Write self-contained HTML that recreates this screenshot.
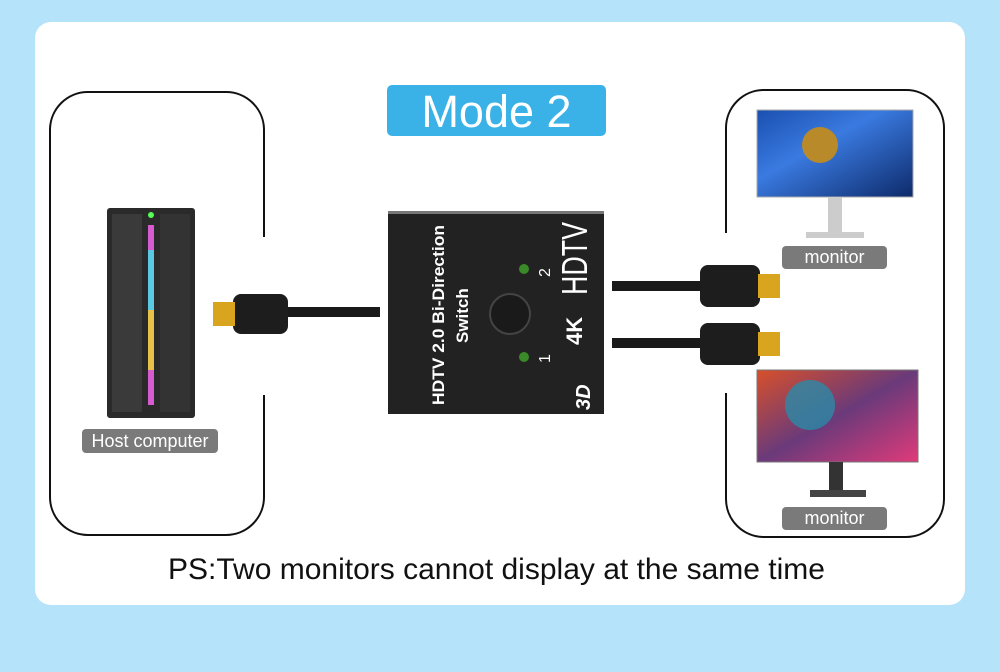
<!DOCTYPE html>
<html><head><style>
body{margin:0;width:1000px;height:672px;background:#b5e4fa;position:relative;overflow:hidden;font-family:"Liberation Sans",sans-serif}
.a{position:absolute}
.lbl{background:#7a7a7a;color:#fff;text-align:center;border-radius:4px;font-size:18px}
</style></head><body>
<div class="a" style="left:35px;top:22px;width:930px;height:583px;background:#fff;border-radius:16px"></div>
<svg class="a" style="left:0;top:0" width="1000" height="672">
<path d="M264 237 V130 A38 38 0 0 0 226 92 H88 A38 38 0 0 0 50 130 V497 A38 38 0 0 0 88 535 H226 A38 38 0 0 0 264 497 V395" fill="none" stroke="#111" stroke-width="2"/>
<path d="M726 233 V128 A38 38 0 0 1 764 90 H906 A38 38 0 0 1 944 128 V499 A38 38 0 0 1 906 537 H764 A38 38 0 0 1 726 499 V393" fill="none" stroke="#111" stroke-width="2"/>
<!-- tower -->
<rect x="107" y="208" width="88" height="210" rx="3" fill="#2a2a2a"/>
<rect x="112" y="214" width="30" height="198" fill="#3a3a3a"/>
<rect x="160" y="214" width="30" height="198" fill="#333"/>
<rect x="148" y="225" width="6" height="180" fill="#d65ad0"/>
<rect x="148" y="250" width="6" height="60" fill="#5ac8e0"/>
<rect x="148" y="310" width="6" height="60" fill="#e6c24a"/>
<circle cx="151" cy="215" r="3" fill="#5f5"/>
<!-- left cable -->
<rect x="280" y="307" width="100" height="10" fill="#1a1a1a"/>
<rect x="233" y="294" width="55" height="40" rx="8" fill="#1d1d1d"/>
<rect x="213" y="302" width="22" height="24" fill="#d9a41e"/>
<!-- switch -->
<rect x="388" y="211" width="216" height="203" fill="#222"/>
<rect x="388" y="211" width="216" height="3" fill="#777"/>
<circle cx="510" cy="314" r="20" fill="#1a1a1a" stroke="#444" stroke-width="2"/>
<circle cx="524" cy="269" r="5" fill="#3a8a2a"/>
<circle cx="524" cy="357" r="5" fill="#3a8a2a"/>
<g fill="#fff" font-family="Liberation Sans" font-weight="bold">
<text transform="translate(444 405) rotate(-90)" font-size="17" textLength="180" lengthAdjust="spacingAndGlyphs">HDTV 2.0 Bi-Direction</text>
<text transform="translate(468 343) rotate(-90)" font-size="17">Switch</text>
<text transform="translate(550 277) rotate(-90)" font-size="16" font-weight="normal">2</text>
<text transform="translate(550 363) rotate(-90)" font-size="16" font-weight="normal">1</text>
<text transform="translate(587 295) rotate(-90)" font-size="36" font-weight="normal" textLength="73" lengthAdjust="spacingAndGlyphs">HDTV</text>
<text transform="translate(582 345) rotate(-90)" font-size="22">4K</text>
<text transform="translate(590 410) rotate(-90)" font-size="20" font-style="italic">3D</text>
</g>
<!-- right cables -->
<rect x="612" y="281" width="100" height="10" fill="#1a1a1a"/>
<rect x="612" y="338" width="100" height="10" fill="#1a1a1a"/>
<rect x="700" y="265" width="60" height="42" rx="8" fill="#1d1d1d"/>
<rect x="700" y="323" width="60" height="42" rx="8" fill="#1d1d1d"/>
<rect x="758" y="274" width="22" height="24" fill="#d9a41e"/>
<rect x="758" y="332" width="22" height="24" fill="#d9a41e"/>
<defs>
<linearGradient id="g1" x1="0" y1="0" x2="1" y2="1"><stop offset="0" stop-color="#1a4fb0"/><stop offset=".4" stop-color="#3a7ae0"/><stop offset="1" stop-color="#0d2a6a"/></linearGradient>
<linearGradient id="g2" x1="0" y1="0" x2="1" y2="1"><stop offset="0" stop-color="#d8502a"/><stop offset=".5" stop-color="#6a3a7a"/><stop offset="1" stop-color="#e03a7a"/></linearGradient>
</defs>
<rect x="757" y="110" width="156" height="87" fill="url(#g1)" stroke="#aaa"/>
<circle cx="820" cy="145" r="18" fill="#b88a2a"/>
<rect x="828" y="197" width="14" height="38" fill="#ccc"/>
<rect x="806" y="232" width="58" height="6" fill="#ccc"/>
<rect x="757" y="370" width="161" height="92" fill="url(#g2)" stroke="#777"/>
<circle cx="810" cy="405" r="25" fill="#2a8aa8" opacity=".8"/>
<rect x="829" y="462" width="14" height="30" fill="#333"/>
<rect x="810" y="490" width="56" height="7" fill="#444"/>
</svg>
<div class="a" style="left:387px;top:85px;width:219px;height:51px;background:#3ab2e8;border-radius:5px;color:#fff;font-size:45px;text-align:center;line-height:53px">Mode 2</div>
<div class="a lbl" style="left:82px;top:429px;width:136px;height:24px;line-height:24px">Host computer</div>
<div class="a lbl" style="left:782px;top:246px;width:105px;height:23px;line-height:23px">monitor</div>
<div class="a lbl" style="left:782px;top:507px;width:105px;height:23px;line-height:23px">monitor</div>
<div class="a" style="left:0;width:993px;top:553px;text-align:center;font-size:30px;color:#111">PS:Two monitors cannot display at the same time</div>
</body></html>
